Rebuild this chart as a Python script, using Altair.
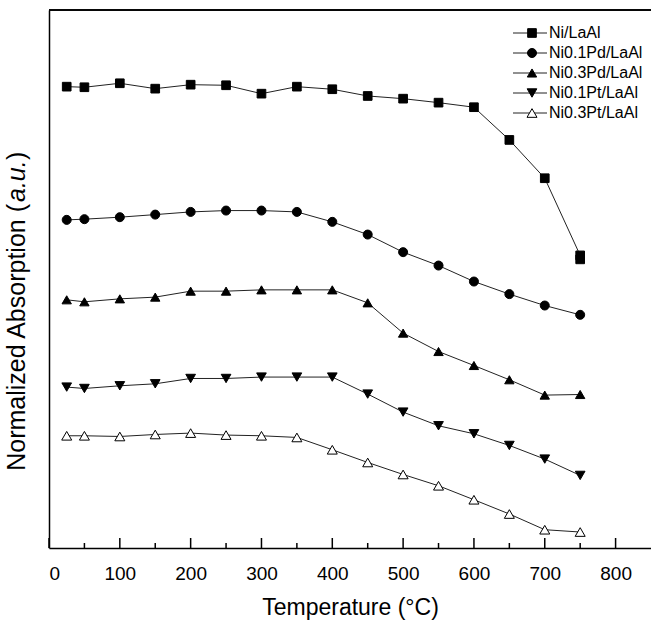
import altair as alt
import pandas as pd

# ---- data ----
series_names = ["Ni/LaAl", "Ni0.1Pd/LaAl", "Ni0.3Pd/LaAl", "Ni0.1Pt/LaAl", "Ni0.3Pt/LaAl"]
temps = [25, 50, 100, 150, 200, 250, 300, 350, 400, 450, 500, 550, 600, 650, 700, 750]
ni_temps = temps + [750]

ni_laal = [0.8575, 0.8564, 0.8638, 0.8538, 0.8612, 0.8601, 0.8445, 0.8575, 0.8527,
           0.8402, 0.8352, 0.8278, 0.8193, 0.7585, 0.6873, 0.5439, 0.5365]
ni01pd = [0.6099, 0.6112, 0.6149, 0.6197, 0.6247, 0.6272, 0.6272, 0.6247, 0.6062,
          0.5826, 0.5499, 0.5250, 0.4953, 0.4719, 0.4507, 0.4334]
ni03pd = [0.4613, 0.4576, 0.4631, 0.4663, 0.4774, 0.4774, 0.4798, 0.4798, 0.4798,
          0.4557, 0.3994, 0.3652, 0.3392, 0.3127, 0.2842, 0.2853]
ni01pt = [0.2991, 0.2965, 0.3015, 0.3052, 0.3151, 0.3151, 0.3177, 0.3177, 0.3177,
          0.2861, 0.2526, 0.2272, 0.2123, 0.1906, 0.1653, 0.1349]
ni03pt = [0.2086, 0.2086, 0.2073, 0.2110, 0.2136, 0.2099, 0.2086, 0.2055, 0.1826,
          0.1590, 0.1367, 0.1157, 0.0897, 0.0632, 0.0340, 0.0297]

major_ticks = [0, 100, 200, 300, 400, 500, 600, 700, 800]
minor_ticks = [50, 150, 250, 350, 450, 550, 650, 750]

shapes = ["square", "circle", "triangle-up", "triangle-down", "triangle-up"]
fills = ["black", "black", "black", "black", "white"]
sizes = [75, 100, 128, 128, 128]

# ---- tables ----
rows = []
for name, xs, ys in zip(series_names,
                        [ni_temps, temps, temps, temps, temps],
                        [ni_laal, ni01pd, ni03pd, ni01pt, ni03pt]):
    for t, v in zip(xs, ys):
        rows.append({"series": name, "temp": t, "value": v})
df = pd.DataFrame(rows)
legend_df = pd.DataFrame({"series": series_names, "idx": list(range(len(series_names)))})
ticks_df = pd.DataFrame({"t": major_ticks + minor_ticks,
                         "major": [True] * len(major_ticks) + [False] * len(minor_ticks)})

W, H = 602, 538
FONT = "Liberation Sans"

xscale = alt.Scale(domain=[0, 850], nice=False, zero=False)
yscale = alt.Scale(domain=[0, 1], nice=False, zero=False)
shape_scale = alt.Scale(domain=series_names, range=shapes)
fill_scale = alt.Scale(domain=series_names, range=fills)
size_scale = alt.Scale(domain=series_names, range=sizes)

base = alt.Chart(df)

lines = base.mark_line(color="#222", strokeWidth=1).encode(
    x=alt.X("temp:Q", scale=xscale,
            axis=alt.Axis(title="Temperature (°C)", values=major_ticks, format="d",
                          ticks=False, tickSize=0, grid=False, domainColor="black",
                          domainWidth=1.5, labelFont=FONT, labelFontSize=19,
                          labelColor="black", labelPadding=16, titleFont=FONT,
                          titleFontSize=23, titleFontWeight="normal", titleColor="black",
                          titlePadding=13)),
    y=alt.Y("value:Q", scale=yscale,
            axis=alt.Axis(title=None, labels=False, ticks=False, grid=False,
                          domainColor="black", domainWidth=1.5)),
    detail="series:N",
)

points = base.mark_point(filled=True, stroke="black", strokeWidth=1, opacity=1).encode(
    x=alt.X("temp:Q", scale=xscale),
    y=alt.Y("value:Q", scale=yscale, axis=None),
    shape=alt.Shape("series:N", scale=shape_scale, legend=None),
    fill=alt.Fill("series:N", scale=fill_scale, legend=None),
    size=alt.Size("series:N", scale=size_scale, legend=None),
)

major_rules = alt.Chart(ticks_df).transform_filter("datum.major").mark_rule(
    color="black", strokeWidth=1.5).encode(
    x=alt.X("t:Q", scale=xscale), y=alt.value(H), y2=alt.value(H - 10))
minor_rules = alt.Chart(ticks_df).transform_filter("!datum.major").mark_rule(
    color="black", strokeWidth=1.5).encode(
    x=alt.X("t:Q", scale=xscale), y=alt.value(H), y2=alt.value(H - 5))

top_border = alt.Chart(legend_df).mark_rule(color="black", strokeWidth=1).encode(
    x=alt.value(0), x2=alt.value(W), y=alt.value(0))

# legend (drawn like the original: line through marker)
leg_y = alt.Y("idx:Q", scale=alt.Scale(domain=[0, 4], range=[23, 103]), axis=None)
leg_lines = alt.Chart(legend_df).mark_rule(color="#222", strokeWidth=1).encode(
    x=alt.value(464), x2=alt.value(498), y=leg_y)
leg_pts = alt.Chart(legend_df).mark_point(filled=True, stroke="black", strokeWidth=1,
                                          opacity=1).encode(
    x=alt.value(483), y=leg_y,
    shape=alt.Shape("series:N", scale=shape_scale, legend=None),
    fill=alt.Fill("series:N", scale=fill_scale, legend=None),
    size=alt.Size("series:N", scale=size_scale, legend=None),
)
leg_text = alt.Chart(legend_df).mark_text(align="left", baseline="middle", font=FONT,
                                          fontSize=16, color="black").encode(
    x=alt.value(500), y=leg_y, text="series:N")

# y-axis title with italic "a.u."
ttl_size = 25
y1 = 194
yt1 = alt.Chart(pd.DataFrame({"t": ["Normalized Absorption ("]})).mark_text(
    angle=270, align="right", baseline="middle", font=FONT, fontSize=ttl_size,
    color="black").encode(x=alt.value(-32), y=alt.value(y1), text="t:N")
yt2 = alt.Chart(pd.DataFrame({"t": ["a.u."]})).mark_text(
    angle=270, align="left", baseline="middle", font=FONT, fontSize=ttl_size,
    fontStyle="italic", color="black").encode(x=alt.value(-32), y=alt.value(y1 - 2),
                                              text="t:N")
yt3 = alt.Chart(pd.DataFrame({"t": [")"]})).mark_text(
    angle=270, align="left", baseline="middle", font=FONT, fontSize=ttl_size,
    color="black").encode(x=alt.value(-32), y=alt.value(y1 - 2 - 42), text="t:N")

chart = alt.layer(
    lines, points, major_rules, minor_rules, top_border,
    leg_lines, leg_pts, leg_text, yt1, yt2, yt3,
).resolve_scale(y="independent").properties(
    width=W, height=H,
    padding={"left": 49, "top": 10, "right": 0, "bottom": 76},
    autosize=alt.AutoSizeParams(type="none"),
    background="white",
).configure_view(stroke=None)

chart.save("out.html", embed_options={"renderer": "svg", "actions": False})
